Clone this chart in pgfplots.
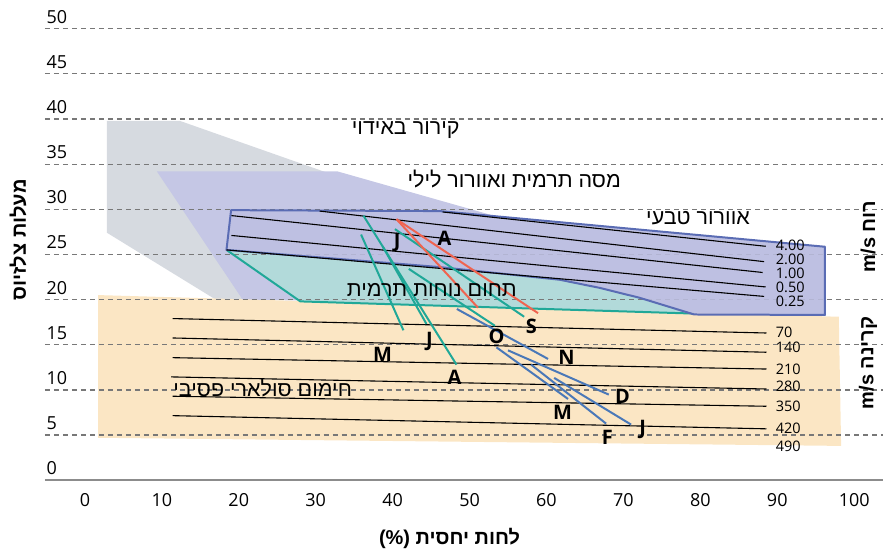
\documentclass[border=0pt]{standalone}
\usepackage{pgfplots}
\pgfplotsset{compat=1.18}
\usepackage{fontspec}
\setmainfont{Open Sans}
\newfontfamily\heb[Script=Hebrew]{Liberation Sans}
\TeXXeTstate=1
\definecolor{graybg}{RGB}{214,218,224}
\definecolor{purp}{RGB}{197,199,229}
\definecolor{boxfill}{RGB}{189,191,226}
\definecolor{boxblue}{RGB}{90,108,180}
\definecolor{tealfill}{RGB}{178,218,218}
\definecolor{tealline}{RGB}{32,168,152}
\definecolor{yellowbg}{RGB}{251,230,196}
\definecolor{redline}{RGB}{240,100,80}
\definecolor{blueline}{RGB}{74,120,184}
\definecolor{gridgray}{RGB}{120,120,120}
\definecolor{axisgray}{RGB}{140,140,140}
\begin{document}
\begin{tikzpicture}
\begin{axis}[
  set layers,
  scale only axis, width=839pt, height=480.7pt,
  xmin=-5.2, xmax=103.76, ymin=0, ymax=53.17,
  axis x line*=bottom, axis y line*=left,
  x axis line style={-, draw=axisgray, line width=1.8pt},
  y axis line style={draw=none},
  xtick={0,10,...,100}, ytick={0,5,...,50},
  major tick length=0pt,
  ymajorgrids,
  grid style={draw=gridgray, line width=1.2pt, dash pattern=on 5pt off 4pt},
  tick label style={font=\fontsize{18}{20}\selectfont},
  /pgf/number format/assume math mode=true,
  xticklabel style={anchor=north, yshift=-10pt},
  yticklabel style={anchor=base west, inner sep=0pt, xshift=1.5pt, yshift=5.5pt},
  clip=false, no markers,
]
% background regions
\addplot[on layer=axis background, fill=graybg, draw=none] coordinates {(2.86,39.8) (12.3,39.8) (40,31.5) (40,20) (17,20) (2.86,27.4)} -- cycle;
\addplot[on layer=axis background, fill=purp, draw=none] coordinates {(9.35,34.2) (32.8,34.2) (53.5,29.2) (96.2,25.85) (96.2,18.35) (79.2,18.5) (28,19.9) (20.5,20)} -- cycle;
\addplot[on layer=axis background, fill=yellowbg, draw=none] coordinates {(1.7,20.5) (98,18.1) (98.3,3.8) (1.7,4.7)} -- cycle;
\addplot[on layer=axis background, fill=tealfill, draw=none] coordinates {(18.4,25.5) (28,19.8) (79.2,18.45) (72.1,20.2) (66.9,21.3) (61.7,22.2) (46.1,23.6)} -- cycle;
% teal region edges
\addplot[tealline, line width=2pt] coordinates {(18.4,25.5) (28,19.8) (79.2,18.45)};
% natural ventilation box
\addplot[fill=boxfill, fill opacity=0.85, draw=boxblue, line width=2pt, line join=round] coordinates {(19.0,29.9) (46.1,29.8) (96.2,25.85) (96.2,18.3) (79.2,18.35) (72.1,20.2) (66.9,21.3) (61.7,22.2) (46.1,23.6) (18.4,25.5)} -- cycle;
% wind lines
\addplot[black, line width=1.1pt] coordinates {(46.5,29.7) (88.5,25.9)};
\addplot[black, line width=1.1pt] coordinates {(30.5,29.8) (88.3,24.2)};
\addplot[black, line width=1.1pt] coordinates {(19.05,29.3) (88.1,23.0)};
\addplot[black, line width=1.1pt] coordinates {(19.05,27.1) (88.5,21.4)};
\addplot[black, line width=1.1pt] coordinates {(18.4,25.5) (88.3,20.35)};
% radiation lines
\addplot[black, line width=1.1pt] coordinates {(11.4,17.9) (88.6,16.3)};
\addplot[black, line width=1.1pt] coordinates {(11.4,15.75) (88.6,14.17)};
\addplot[black, line width=1.1pt] coordinates {(11.4,13.57) (88.6,12.31)};
\addplot[black, line width=1.1pt] coordinates {(11.2,11.44) (88.6,10.1)};
\addplot[black, line width=1.1pt] coordinates {(11.4,9.3) (88.6,8.19)};
\addplot[black, line width=1.1pt] coordinates {(11.4,7.15) (88.6,5.69)};
% teal months
\addplot[tealline, line width=2pt] coordinates {(36.2,29.3) (48.3,12.8)};
\addplot[tealline, line width=2pt] coordinates {(38.7,25.9) (44.4,17.3)};
\addplot[tealline, line width=2pt] coordinates {(35.9,27.2) (41.4,16.6)};
\addplot[tealline, line width=2pt] coordinates {(40.3,27.8) (57.1,18.1)};
\addplot[tealline, line width=2pt] coordinates {(42.1,23.4) (53.3,17.1)};
% red months
\addplot[redline, line width=2pt] coordinates {(40.5,28.9) (51.1,19.1)};
\addplot[redline, line width=2pt] coordinates {(40.5,28.9) (58.9,18.5)};
% blue months
\addplot[blueline, line width=2pt] coordinates {(48.35,18.96) (60.2,13.43)};
\addplot[blueline, line width=2pt] coordinates {(53.5,14.71) (62.8,9.0)};
\addplot[blueline, line width=2pt] coordinates {(55.0,14.38) (68.1,9.48)};
\addplot[blueline, line width=2pt] coordinates {(58.0,12.8) (67.75,6.27)};
\addplot[blueline, line width=2pt] coordinates {(61.0,11.33) (71.0,6.16)};
% month labels
\begin{scope}[every node/.style={font=\bfseries\fontsize{20}{22}\selectfont, inner sep=0pt}]
\node at (axis cs:40.6,26.3) {J};
\node at (axis cs:46.75,26.8) {A};
\node at (axis cs:38.7,13.9) {M};
\node at (axis cs:44.8,15.4) {J};
\node at (axis cs:48.05,11.4) {A};
\node at (axis cs:53.5,15.9) {O};
\node at (axis cs:58.05,17.0) {S};
\node at (axis cs:62.6,13.6) {N};
\node at (axis cs:69.9,9.26) {D};
\node at (axis cs:62.1,7.5) {M};
\node at (axis cs:67.9,4.7) {F};
\node at (axis cs:72.5,5.6) {J};
\end{scope}
% side value labels
\begin{scope}[every node/.style={font=\fontsize{14.5}{16}\selectfont, inner sep=0pt, anchor=west}]
\node at (axis cs:89.8,26.0) {4.00};
\node at (axis cs:89.8,24.45) {2.00};
\node at (axis cs:89.8,22.9) {1.00};
\node at (axis cs:89.8,21.35) {0.50};
\node at (axis cs:89.8,19.8) {0.25};
\node at (axis cs:89.8,16.4) {70};
\node at (axis cs:89.8,14.7) {140};
\node at (axis cs:89.8,12.25) {210};
\node at (axis cs:89.8,10.4) {280};
\node at (axis cs:89.8,8.15) {350};
\node at (axis cs:89.8,5.7) {420};
\node at (axis cs:89.8,3.7) {490};
\end{scope}
% region labels
\begin{scope}[every node/.style={font=\heb\fontsize{21.5}{23}\selectfont, inner sep=0pt}]
\node at (axis cs:41.7,38.8) {\beginR קירור באידוי\endR};
\node at (axis cs:55.8,33.4) {\beginR מסה תרמית ואוורור לילי\endR};
\node at (axis cs:79.7,29.05) {\beginR אוורור טבעי\endR};
\node at (axis cs:45.1,21.1) {\beginR תחום נוחות תרמית\endR};
\node at (axis cs:23.1,10.25) {\beginR חימום סולארי פסיבי\endR};
\end{scope}
% axis titles
\begin{scope}[every node/.style={font=\heb\bfseries\fontsize{20}{22}\selectfont, inner sep=0pt}]
\node[rotate=90] at (axis cs:-8.7,26.6) {\beginR מעלות צלזיוס\endR};
\node[rotate=90] at (axis cs:101.8,27.0) {\beginR רוח \beginL m/s\endL\endR};
\node[rotate=90] at (axis cs:101.8,13.0) {\beginR קרינה \beginL m/s\endL\endR};
\node at (axis cs:47.4,-6.4) {\beginR לחות יחסית \beginL(\%)\endL\endR};
\end{scope}
\coordinate (BL) at (axis cs:-11.04,-8.11);
\coordinate (TR) at (axis cs:103.76,53.17);
\end{axis}
\path (BL) rectangle (TR);
\end{tikzpicture}
\end{document}
